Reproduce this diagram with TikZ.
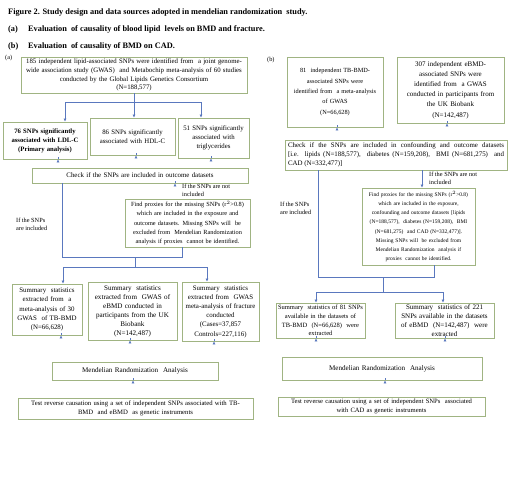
\documentclass[tikz,border=0pt]{standalone}
\usepackage{fontspec}
\setmainfont{Liberation Serif}
\usetikzlibrary{arrows.meta,calc}
\definecolor{boxc}{RGB}{160,180,130}
\definecolor{linec}{RGB}{90,120,190}
\newcommand{\fs}[2]{\fontsize{#1}{#2}\selectfont}
\begin{document}
\begin{tikzpicture}[x=1pt,y=-1pt,
  box/.style={draw=boxc,line width=0.7pt,fill=white,inner sep=0.8pt,align=center,font=\fs{5.8}{8.2}},
  ln/.style={draw=linec,line width=0.6pt},
  arr/.style={draw=linec,line width=0.6pt,-{Latex[length=3pt,width=3pt]}},
  lbl/.style={inner sep=0pt,align=left,font=\fs{6.3}{8}},
  ttl/.style={inner sep=0pt,anchor=base west,font=\fs{8.3}{10}\bfseries}]
\useasboundingbox (0,0) rectangle (508,480);
\fill[white] (0,0) rectangle (508,480);
% titles
\node[ttl] (t1) at (8,14) {Figure 2. Study design and data sources adopted in mendelian randomization\ \ study.};
\node[ttl] (t2) at (8,31) {(a)};
\node[ttl] (t2b) at (28,31) {Evaluation\ \ of causality of blood lipid\ \ levels on BMD and fracture.};
\node[ttl] (t3) at (8,48) {(b)};
\node[ttl] (t3b) at (28,48) {Evaluation\ \ of causality of BMD on CAD.};
\node[lbl,anchor=base west] (pa) at (5,59) {(a)};
\node[lbl,anchor=base west] (pb) at (267,61) {(b)};
% ---------- panel (a) ----------
\node[box,minimum width=226,minimum height=36,text width=224,font=\fs{6.8}{8.7}] (top) at (134,75)
 {185 independent lipid-associated SNPs were identified from\ \ a joint genome-\\wide association study (GWAS)\ \ and Metabochip meta-analysis of 60 studies\\conducted by the Global Lipids Genetics Consortium\\(N=188,577)};
\node[box,minimum width=84,minimum height=37,text width=82,font=\fs{6.7}{9}\bfseries] (ldl) at (45,140.5)
 {76 SNPs significantly\\associated with LDL-C\\(Primary analysis)};
\node[box,minimum width=85,minimum height=37,text width=83,font=\fs{6.8}{9}] (hdl) at (132.5,136.5)
 {86 SNPs significantly\\associated with HDL-C};
\node[box,minimum width=71,minimum height=40,text width=69,font=\fs{6.8}{9}] (tg) at (213.5,138)
 {51 SNPs significantly\\associated with\\triglycerides};
\node[box,minimum width=216,minimum height=15,text width=214,font=\fs{6.9}{8}] (chk) at (140,175.5)
 {Check if the SNPs are included in outcome datasets};
\node[box,minimum width=125,minimum height=48,text width=123,font=\fs{6.3}{9.2}] (prx) at (187.5,223)
 {Find proxies for the missing SNPs (r$^2$>0.8)\\which are included in the exposure and\\outcome datasets. Missing SNPs will\ \ be\\excluded from\ \ Mendelian Randomization\\analysis if proxies\ \ cannot be identified.};
\node[box,minimum width=70,minimum height=51,text width=68,font=\fs{6.9}{9.2}] (sa1) at (47,309.5)
 {Summary\ \ statistics\\extracted from\ \ a\\meta-analysis of 30\\GWAS\ \ of TB-BMD\\(N=66,628)};
\node[box,minimum width=89,minimum height=58,text width=87,font=\fs{7.1}{9}] (sa2) at (132.5,311)
 {Summary\ \ statistics\\extracted from\ \ GWAS of\\eBMD conducted in\\participants from the UK\\Biobank\\(N=142,487)};
\node[box,minimum width=77,minimum height=59,text width=76,inner sep=0.5pt,font=\fs{6.9}{9.2}] (sa3) at (220.5,311.5)
 {Summary\ \ statistics\\extracted from\ \ GWAS\\meta-analysis of fracture\\conducted\\(Cases=37,857\\Controls=227,116)};
\node[box,minimum width=166,minimum height=18,text width=164,font=\fs{7.1}{9}] (mra) at (135,371)
 {Mendelian Randomization\ \ Analysis};
\node[box,minimum width=235,minimum height=21,text width=233,font=\fs{6.7}{8.3}] (tsa) at (135.5,408.5)
 {Test reverse causation using a set of independent SNPs associated with TB-\\BMD\ \ and eBMD\ \ as genetic instruments};
\node[lbl,anchor=north west] (la1) at (182,183.5) {If the SNPs are not\\included};
\node[lbl,anchor=west] (la2) at (16,224.5) {If the SNPs\\are included};
% connectors (a)
\coordinate (h1L) at (65,102);
\coordinate (h1R) at (201,102);
\draw[ln] (top.south) -- (top.south |- h1L);
\draw[ln] (h1L) -- (h1R);
\draw[arr] (h1L) -- (h1L |- ldl.north);
\draw[arr] (top.south |- h1L) -- (top.south |- hdl.north);
\draw[arr] (h1R) -- (h1R |- tg.north);
\draw[arr] ($(ldl.south)+(13,0)$) -- ($(ldl.south)+(13,0)$ |- chk.north);
\draw[arr] ($(hdl.south)+(3.5,0)$) -- ($(hdl.south)+(3.5,0)$ |- chk.north);
\draw[arr] ($(tg.south)+(-2.5,0)$) -- ($(tg.south)+(-2.5,0)$ |- chk.north);
\coordinate (c1) at (62,257);
\coordinate (c2) at (182,257);
\draw[ln] (c1 |- chk.south) -- (c1) -- (c2) -- (c2 |- prx.south);
\draw[arr] ($(chk.south)+(35,0)$) -- ($(chk.south)+(35,0)$ |- prx.north);
\coordinate (c3) at (135,257);
\coordinate (d1) at (63,267);
\coordinate (d2) at (207,267);
\draw[ln] (c3) -- (c3 |- d1);
\draw[ln] (d1) -- (d2);
\draw[arr] (d1) -- (d1 |- sa1.north);
\draw[arr] (d2) -- (d2 |- sa3.north);
\draw[arr] ($(sa1.south)+(14,0)$) -- ($(sa1.south)+(14,0)$ |- mra.north);
\draw[arr] ($(sa2.south)+(-2.5,0)$) -- ($(sa2.south)+(-2.5,0)$ |- mra.north);
\draw[arr] ($(sa3.south)+(-6.5,0)$) -- ($(sa3.south)+(-6.5,0)$ |- mra.north);
\draw[arr] ($(mra.south)+(-2,0)$) -- ($(mra.south)+(-2,0)$ |- tsa.north);
% ---------- panel (b) ----------
\node[box,minimum width=96,minimum height=70,text width=94,font=\fs{6.3}{10.3}] (tbb) at (335,92)
 {81\ \ independent TB-BMD-\\associated SNPs were\\identified from\ \ a meta-analysis\\of GWAS\\(N=66,628)};
\node[box,minimum width=107,minimum height=66,text width=105,font=\fs{7}{10.2}] (ebb) at (450.5,90)
 {307 independent eBMD-\\associated SNPs were\\identified from\ \ a GWAS\\conducted in participants from\\the UK Biobank\\(N=142,487)};
\node[box,minimum width=222,minimum height=30,text width=216,align=justify,font=\fs{6.9}{9}] (chb) at (396,155)
 {Check if the SNPs are included in confounding and outcome datasets\linebreak{}[i.e. lipids (N=188,577),\ \ diabetes (N=159,208),\ \ BMI (N=681,275)\ \ and\linebreak{}CAD (N=332,477)]};
\node[box,minimum width=113,minimum height=77,text width=111,font=\fs{5.5}{9.2}] (prb) at (418.5,226.5)
 {Find proxies for the missing SNPs (r$^2$>0.8)\\which are included in the exposure,\\confounding and outcome datasets [lipids\\(N=188,577),\ \ diabetes (N=159,208),\ \ BMI\\(N=681,275)\ \ and CAD (N=332,477)].\\Missing SNPs will\ \ be excluded from\\Mendelian Randomization\ \ analysis if\\proxies\ \ cannot be identified.};
\node[box,minimum width=89,minimum height=35,text width=87,font=\fs{6.5}{8.8}] (sb1) at (320.5,320.5)
 {Summary\ \ statistics of 81 SNPs\\available in the datasets of\\TB-BMD\ \ (N=66,628)\ \ were\\extracted};
\node[box,minimum width=99,minimum height=35,text width=98,inner sep=0.5pt,font=\fs{7}{8.8}] (sb2) at (444.5,320.5)
 {Summary\ \ statistics of 221\\SNPs available in the datasets\\of eBMD\ \ (N=142,487)\ \ were\\extracted};
\node[box,minimum width=200,minimum height=23,text width=198,font=\fs{7.1}{9}] (mrb) at (382,368.5)
 {Mendelian Randomization\ \ Analysis};
\node[box,minimum width=207,minimum height=19,text width=205,font=\fs{6.6}{8.3}] (tsb) at (381.5,406.5)
 {Test reverse causation using a set of independent SNPs\ \ associated\\with CAD as genetic instruments};
\node[lbl,anchor=north west] (lb1) at (429,172) {If the SNPs are not\\included};
\node[lbl,anchor=west] (lb2) at (280,208.5) {If the SNPs\\are included};
% connectors (b)
\draw[arr] ($(tbb.south)+(2,0)$) -- ($(tbb.south)+(2,0)$ |- chb.north);
\draw[arr] ($(ebb.south)+(-3.5,0)$) -- ($(ebb.south)+(-3.5,0)$ |- chb.north);
\coordinate (e1) at (318,277);
\coordinate (e2) at (434,277);
\draw[ln] (e1 |- chb.south) -- (e1) -- (e2) -- (e2 |- prb.south);
\coordinate (e4) at (422,0);
\draw[arr] (e4 |- chb.south) -- (e4 |- prb.north);
\coordinate (e3) at (383,277);
\coordinate (f1) at (316,292);
\coordinate (f2) at (443,292);
\draw[ln] (e3) -- (e3 |- f1);
\draw[ln] (f1) -- (f2);
\draw[arr] (f1) -- (f1 |- sb1.north);
\draw[arr] (f2) -- (f2 |- sb2.north);
\draw[arr] ($(sb1.south)+(-4.5,0)$) -- ($(sb1.south)+(-4.5,0)$ |- mrb.north);
\draw[arr] ($(sb2.south)+(0.5,0)$) -- ($(sb2.south)+(0.5,0)$ |- mrb.north);
\draw[arr] ($(mrb.south)+(3,0)$) -- ($(mrb.south)+(3,0)$ |- tsb.north);
\end{tikzpicture}
\end{document}
